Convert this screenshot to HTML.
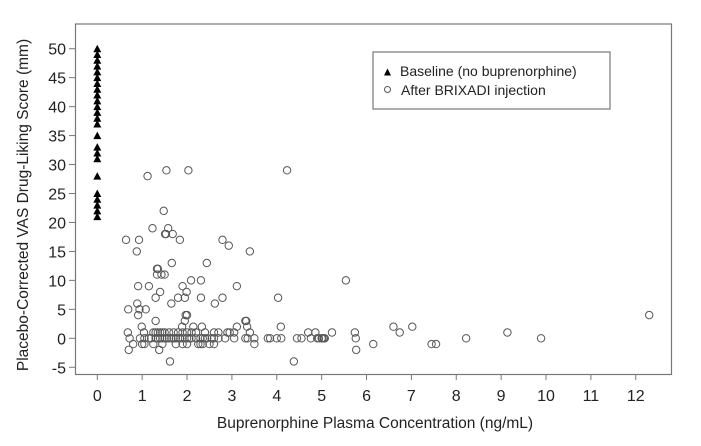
<!DOCTYPE html>
<html><head><meta charset="utf-8"><style>
html,body{margin:0;padding:0;background:#fff}
svg{display:block;font-family:"Liberation Sans",Arial,sans-serif}
</style></head><body>
<svg id="s" width="701" height="446" viewBox="0 0 701 446" xmlns="http://www.w3.org/2000/svg">
<rect x="75.5" y="24" width="596" height="350.5" fill="none" stroke="#777" stroke-width="1.2"/>
<g id="yt" font-size="16" fill="#222" text-anchor="end"></g>
<g id="xt" font-size="16" fill="#222" text-anchor="middle"></g>
<text x="28" y="205" font-size="15.5" fill="#222" text-anchor="middle" transform="rotate(-90 28 205)">Placebo-Corrected VAS Drug-Liking Score (mm)</text>
<text x="375" y="428" font-size="15.5" fill="#222" text-anchor="middle">Buprenorphine Plasma Concentration (ng/mL)</text>
<rect x="373" y="52" width="237" height="57" fill="#fff" stroke="#777" stroke-width="1.2"/>
<polygon points="384,75.5 391,75.5 387.5,68.5" fill="#000"/>
<text x="400" y="76" font-size="14" fill="#222">Baseline (no buprenorphine)</text>
<circle cx="387.5" cy="89.5" r="3" fill="none" stroke="#555"/>
<text x="401" y="95" font-size="14" fill="#222">After BRIXADI injection</text>
<g id="pts"></g>
</svg>
<script>
var NS="http://www.w3.org/2000/svg";
function X(v){return 97.3+v*44.87}function Y(v){return 338.3-v*5.792}
var yt=document.getElementById("yt"),xt=document.getElementById("xt"),s=document.getElementById("s"),g=document.getElementById("pts");
function el(p,n,a){var e=document.createElementNS(NS,n);for(var k in a)e.setAttribute(k,a[k]);p.appendChild(e);return e}
for(var v=-5;v<=50;v+=5){var y=Y(v);el(s,"line",{x1:69,x2:75.5,y1:y,y2:y,stroke:"#777"});var t=el(yt,"text",{x:66,y:y+6});t.textContent=v;}
for(var v=0;v<=12;v++){var x=X(v);el(s,"line",{x1:x,x2:x,y1:374.5,y2:380,stroke:"#777"});var t=el(xt,"text",{x:x,y:401});t.textContent=v;}
var tri=[21,22,23,24,25,28,31,32,33,35];for(var i=37;i<=50;i++)tri.push(i);
tri.forEach(function(v){var y=Y(v),x=X(0);el(g,"polygon",{points:(x-4)+","+(y+3.5)+" "+(x+4)+","+(y+3.5)+" "+x+","+(y-4),fill:"#000"})});
var c=[[1.12,28],[1.54,29],[2.03,29],[4.23,29],[1.48,22],[1.23,19],[1.58,19],[1.51,18],[1.53,18],[1.68,18],[0.64,17],[0.93,17],[1.84,17],[2.79,17],[2.93,16],[0.88,15],[3.4,15],[1.66,13],[2.44,13],[1.33,12],[1.35,12],[1.33,11],[1.43,11],[1.5,11],[2.09,10],[2.31,10],[5.54,10],[0.91,9],[1.15,9],[1.9,9],[3.11,9],[1.99,8],[1.4,8],[1.3,7],[1.8,7],[1.95,7],[2.31,7],[2.79,7],[4.03,7],[1.65,6],[2.62,6],[0.89,6],[0.69,5],[0.94,5],[1.08,5],[0.91,4],[1.97,4],[2.0,4],[1.95,3],[1.3,3],[3.32,3],[3.3,3],[0.99,2],[1.89,2],[2.14,2],[2.33,2],[3.11,2],[3.34,2],[4.09,2],
[0.68,1],[1.04,1],[4.7,1],[4.86,1],[5.23,1],[5.74,1],[6.74,1],[9.14,1],[6.6,2],[7.02,2],[12.3,4],
[5.76,0],[8.22,0],[9.89,0],[4.76,0],[4.94,0],[5.02,0],[5.07,0],[5.77,-2],[6.15,-1],[7.45,-1],[7.55,-1],
[0.7,-2],[1.38,-2],[1.62,-4],[4.38,-4]];
[1.25,1.3,1.35,1.4,1.45,1.5,1.6,1.7,1.8,1.9,2.0,2.1,2.2,2.4,2.6,2.7,2.9,2.95,3.05,3.4].forEach(function(x){c.push([x,1])});
[0.72,0.95,1.05,1.15,1.2,1.3,1.35,1.4,1.45,1.5,1.55,1.6,1.65,1.7,1.75,1.8,1.85,1.9,2.0,2.05,2.1,2.2,2.3,2.35,2.4,2.45,2.55,2.6,2.7,2.85,3.05,3.3,3.35,3.5,3.8,3.85,4.0,4.1,4.45,4.55,4.9,5.0,5.05].forEach(function(x){c.push([x,0])});
[0.8,1.0,1.05,1.25,1.45,1.75,1.9,2.0,2.25,2.3,2.35,2.5,2.6,3.5].forEach(function(x){c.push([x,-1])});
c.forEach(function(p){el(g,"circle",{cx:X(p[0]),cy:Y(p[1]),r:3.7,fill:"none",stroke:"#555","stroke-width":1})});
</script>
</body></html>
